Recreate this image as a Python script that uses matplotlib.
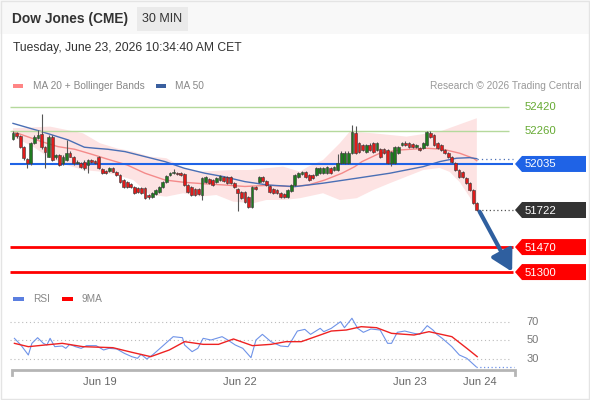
import numpy as np
import matplotlib.pyplot as plt
from matplotlib.patches import Rectangle, Polygon

plt.rcParams['font.family'] = ['Liberation Sans', 'DejaVu Sans']

# ---- candles (30 min) ----
opens = [52203, 52248, 52225, 52153, 52067, 52040, 52176, 52210, 52239, 52149,
         52085, 52221, 52081, 52096, 52040, 52062, 52112, 52081, 52040, 52040,
         52051, 52028, 52062, 52057, 52085, 51999, 51989, 51989, 52006, 51983,
         51960, 51926, 51915, 51898, 51881, 51870, 51870, 51870, 51824, 51809,
         51831, 51847, 51881, 51915, 51958, 51972, 51976, 51972, 51967, 51892,
         51881, 51863, 51863, 51824, 51915, 51931, 51926, 51915, 51926, 51949,
         51949, 51949, 51904, 51863, 51847, 51847, 51809, 51741, 51877, 51915,
         51949, 51921, 51885, 51863, 51858, 51840, 51831, 51813, 51853, 51892,
         51949, 51967, 51983, 51960, 51960, 51960, 51976, 51972, 51972, 52006,
         51994, 51994, 52040, 52040, 52040, 52108, 52244, 52176, 52164, 52119,
         52164, 52176, 52130, 52135, 52135, 52130, 52040, 52040, 52108, 52164,
         52176, 52176, 52171, 52149, 52142, 52142, 52164, 52248, 52232, 52176,
         52164, 52130, 52108, 52085, 52040, 51994, 51983, 51938, 51904, 51858,
         51768]
closes = [52248, 52225, 52153, 52074, 52040, 52176, 52221, 52232, 52149, 52119,
          52221, 52062, 52096, 52028, 52085, 52112, 52085, 52040, 52051, 52017,
          52006, 52062, 52051, 52040, 52006, 51972, 51976, 52006, 51983, 51960,
          51915, 51881, 51881, 51877, 51840, 51847, 51836, 51802, 51809, 51836,
          51858, 51881, 51915, 51953, 51976, 51983, 51967, 51960, 51892, 51847,
          51824, 51824, 51830, 51938, 51949, 51904, 51892, 51938, 51953, 51921,
          51908, 51904, 51877, 51836, 51802, 51779, 51745, 51881, 51863, 51949,
          51921, 51892, 51847, 51840, 51836, 51813, 51809, 51858, 51892, 51960,
          51972, 51983, 51949, 51926, 51938, 52006, 52006, 52006, 52013, 51972,
          52017, 52044, 52112, 52112, 52112, 52255, 52108, 52119, 52130, 52164,
          52130, 52119, 52176, 52085, 52108, 52040, 52119, 52153, 52153, 52176,
          52164, 52153, 52153, 52162, 52130, 52176, 52255, 52221, 52164, 52142,
          52130, 52108, 52085, 52051, 51994, 51949, 51949, 51904, 51858, 51768,
          51722]
highs = [52260, 52255, 52230, 52160, 52075, 52185, 52230, 52265, 52375, 52155,
         52230, 52230, 52105, 52105, 52095, 52198, 52120, 52090, 52060, 52050,
         52060, 52070, 52070, 52065, 52090, 52005, 51995, 52012, 52012, 51990,
         51965, 51930, 51920, 51905, 51888, 51876, 51876, 51876, 51830, 51842,
         51865, 51888, 51922, 51960, 51983, 51999, 51983, 51978, 51972, 51898,
         51888, 51870, 51870, 51945, 51955, 51938, 51933, 51945, 51960, 51955,
         51955, 51955, 51910, 51870, 51853, 51853, 51815, 51888, 51884, 51955,
         51956, 51928, 51892, 51870, 51865, 51847, 51838, 51865, 51898, 51966,
         51978, 51990, 51990, 51967, 51967, 52012, 52012, 52012, 52020, 52012,
         52023, 52100, 52120, 52120, 52125, 52300, 52290, 52185, 52172, 52172,
         52180, 52185, 52185, 52142, 52142, 52137, 52126, 52160, 52160, 52183,
         52190, 52183, 52178, 52168, 52148, 52183, 52262, 52262, 52240, 52183,
         52171, 52137, 52115, 52092, 52047, 52001, 51990, 51945, 51911, 51865,
         51775]
lows = [52195, 52215, 52145, 52060, 52005, 52030, 52170, 52205, 52140, 52006,
        52080, 52055, 52070, 52020, 52030, 52055, 52080, 52030, 52035, 52010,
        51995, 51972, 52045, 52035, 52000, 51965, 51970, 51983, 51978, 51955,
        51908, 51875, 51875, 51870, 51832, 51840, 51830, 51795, 51800, 51802,
        51825, 51840, 51875, 51908, 51950, 51965, 51960, 51953, 51885, 51840,
        51818, 51818, 51822, 51790, 51908, 51898, 51885, 51908, 51920, 51915,
        51900, 51898, 51870, 51712, 51795, 51772, 51738, 51735, 51856, 51908,
        51915, 51885, 51840, 51833, 51830, 51806, 51802, 51806, 51846, 51885,
        51942, 51960, 51942, 51920, 51932, 51953, 51970, 51965, 51965, 51965,
        51988, 51988, 52033, 52033, 52033, 52100, 52100, 52112, 52124, 52112,
        52124, 52112, 52124, 52078, 52100, 52033, 52020, 52033, 52100, 52157,
        52157, 52146, 52146, 52142, 52124, 52136, 52157, 52214, 52157, 52135,
        52124, 52101, 52078, 52044, 51987, 51942, 51942, 51897, 51851, 51761,
        51715]

# ---- indicators (candle index, value) ----
ma50_x = [0, 8, 15.5, 20, 23, 26.6, 31.4, 37, 42.6, 48, 53.8, 59, 65, 71.4, 79,
          86.8, 96.3, 105.6, 115, 119.6, 124.3, 128, 130]
ma50_y = [52311, 52255, 52198, 52149, 52142, 52135, 52119, 52085, 52051, 52006,
          51972, 51949, 51915, 51892, 51881, 51904, 51938, 51972, 52017, 52051,
          52074, 52078, 52071]
ma20_x = [0, 8, 12.6, 17.3, 21.8, 26.6, 32, 37, 42.6, 48, 53.8, 59.4, 65, 71.6,
          78.2, 82.8, 87.4, 92.2, 95.8, 97.8, 102.8, 108.4, 115.9, 120.5, 125.2,
          129, 130]
ma20_y = [52255, 52187, 52153, 52135, 52103, 52067, 52028, 51972, 51926, 51910,
          51900, 51892, 51882, 51890, 51881, 51892, 51926, 51972, 52017, 52051,
          52108, 52130, 52142, 52135, 52108, 52074, 52057]
bb_up_x = [0, 10.4, 19.6, 24.4, 29, 33.7, 38.4, 43, 47.7, 52.4, 61.6, 66.4, 71,
           75.7, 80.4, 82.8, 86.9, 91.6, 94.4, 100.8, 110.3, 119.6, 126.1, 130]
bb_up_y = [52278, 52289, 52244, 52176, 52142, 52119, 52085, 52074, 52006, 51983,
           51994, 51994, 52006, 52017, 51983, 52017, 52062, 52176, 52255, 52244,
           52221, 52255, 52312, 52346]
bb_lo_x = [0, 5.6, 10.4, 15, 19.7, 24.4, 29, 33.7, 38.4, 43, 47.7, 52.4, 57,
           61.7, 67.3, 71, 75.7, 80.4, 86.9, 91.6, 96.3, 101, 105.6, 110.3, 115,
           119.6, 122.4, 125.2, 128, 130]
bb_lo_y = [52221, 52153, 52074, 52028, 51994, 51983, 51960, 51926, 51824, 51813,
           51836, 51813, 51824, 51779, 51768, 51790, 51790, 51802, 51836, 51790,
           51802, 51858, 51904, 51949, 51994, 52008, 51981, 51912, 51810, 51708]

rsi_x = [0.4, 2.2, 4.3, 5.3, 6.9, 8.5, 9.5, 10.4, 11.7, 13.8, 14.8, 15.9, 17.5,
         19.1, 20.6, 23.3, 25.4, 26.9, 29.1, 31.2, 33.3, 34.9, 35.9, 37.5, 39.1,
         40.7, 42.8, 44.9, 47.5, 48.1, 50.2, 51.8, 53.3, 55.5, 58.6, 60.2, 62.3,
         64.4, 66.7, 68.1, 69.9, 72.3, 75, 77.1, 79.7, 81.8, 83.4, 86.1, 87.1,
         89.2, 91.8, 92.9, 95, 96.6, 98.2, 100.3, 102.9, 105, 106.1, 107.7, 109.8,
         112.4, 114, 116.1, 117.7, 118.8, 120.3, 123, 125.1, 127.2, 129.8]
rsi_v = [51.8, 44.6, 33.8, 46.4, 52.5, 46.4, 44.6, 51.8, 42.8, 43.5, 41, 45.3,
         42.8, 41, 43.9, 43.9, 39.2, 41, 40.3, 35.6, 32, 30.2, 34.5, 29.5, 33.8,
         39.2, 46.4, 53.6, 52.5, 44.6, 37.4, 41, 51.8, 50, 53.6, 50, 44.6, 41,
         30.9, 50, 56.1, 48.2, 43.5, 42.8, 59.7, 61.5, 56.1, 62.6, 59, 62.6, 69.8,
         63.3, 73.5, 62.6, 58.3, 61.9, 60.8, 46.4, 46.4, 58.3, 59.7, 57.2, 56.1,
         65.5, 60.8, 56.1, 51.8, 42.8, 33.8, 30.2, 21.1]
rsi_ma_x = [0.4, 4.3, 9, 13.8, 19.6, 28, 33.3, 38.6, 43.8, 48.1, 53.3, 57.6,
            61.8, 67.1, 72.3, 76.5, 80.8, 86.1, 89.2, 93.4, 97.6, 101.9, 106.1,
            112.4, 116.6, 123, 127.2, 130.1]
rsi_ma_v = [46.4, 42.8, 44.6, 46.4, 42.8, 41.7, 36.7, 32, 39.2, 48.2, 45.3, 45.3,
            51.1, 43.9, 45.3, 48.2, 48.2, 55.4, 59.7, 60.8, 64.4, 63.3, 57.2, 55.4,
            59, 53.6, 41, 32]

levels_green = [52420, 52260]
level_blue = 52035
levels_red = [51470, 51300]
last_price = 51722
target = 51300
date_pos = [24.4, 63.7, 111.2, 130.9]
date_lab = ['Jun 19', 'Jun 22', 'Jun 23', 'Jun 24']

W, H = 590, 400
fig = plt.figure(figsize=(W / 100, H / 100), dpi=100)


def frac(x0, y0, x1, y1):
    return [x0 / W, 1 - y1 / H, (x1 - x0) / W, (y1 - y0) / H]


X0, X1 = -0.84, 140.7
n = len(closes)
idx = np.arange(n)
o = np.array(opens)
c = np.array(closes)

# ---- main price panel ----
ax = fig.add_axes(frac(10, 95, 515, 285))
ax.set_xlim(X0, X1)
ax.set_ylim(51212, 52504)
ax.axis('off')

ax.fill(np.r_[bb_up_x, bb_lo_x[::-1]], np.r_[bb_up_y, bb_lo_y[::-1]],
        color='#fde3e3', lw=0, zorder=1)
ax.plot(ma20_x, ma20_y, color='#f48a8a', lw=1, zorder=2)
ax.plot(ma50_x, ma50_y, color='#4a6fb5', lw=1, zorder=2)

for lv in levels_green:
    ax.hlines(lv, X0, 139.0, color='#b5d99c', lw=1, zorder=2)
ax.hlines(level_blue, X0, 140.2, color='#1f63e6', lw=1.5, zorder=2)
for lv in levels_red:
    ax.hlines(lv, X0, 140.2, color='#ff0000', lw=2, zorder=2)

cols = np.where(c >= o, '#1f7a1f', '#e01b1b')
ax.vlines(idx, lows, highs, color='#555555', lw=0.8, zorder=3)
ax.bar(idx, np.maximum(np.abs(c - o), 4), bottom=np.minimum(o, c), width=0.78,
       color=cols, edgecolor='#3a3a3a', linewidth=0.4, zorder=4)

# dotted guides to the price tags
ax.plot([n - 0.6, 140.2], [last_price, last_price], color='#555555', lw=0.9,
        ls=(0, (1, 2)), clip_on=False, zorder=2)
ax.plot([ma50_x[-1], 140.2], [ma50_y[-1], ma50_y[-1]], color='#4a6fb5', lw=0.9,
        ls=(0, (1, 2.5)), clip_on=False, zorder=2)

ax.annotate('', xy=(139.9, target + 2), xytext=(130.8, last_price - 12),
            arrowprops=dict(arrowstyle='-|>,head_length=0.9,head_width=0.5',
                            color='#2f5f9f', lw=3, shrinkA=0, shrinkB=0,
                            mutation_scale=14),
            annotation_clip=False, zorder=6)

# ---- RSI panel ----
ax2 = fig.add_axes(frac(10, 305, 515, 370))
ax2.set_xlim(X0, X1)
ax2.set_ylim(17.57, 87.84)
ax2.axis('off')
ax2.hlines([30, 50, 70], X0, 139.3, colors='#bbbbbb', lw=0.8,
           linestyles=(0, (1, 2.5)))
for v in [30, 50, 70]:
    ax2.text(144.0, v, str(v), ha='left', va='center', fontsize=8,
             color='#777777', clip_on=False)
ax2.plot(rsi_x, rsi_v, color='#6f93e8', lw=0.8)
ax2.plot([rsi_x[-1], 140.3], [rsi_v[-1], rsi_v[-1]], color='#6f93e8', lw=0.9,
         ls=(0, (1, 2)), clip_on=False)
ax2.plot(rsi_ma_x, rsi_ma_v, color='#ee2222', lw=1)
ax2.plot([-0.28, -0.28, 140.7, 140.7], [12.2, 17.57, 17.57, 12.2],
         color='#b5b5b5', lw=2, clip_on=False, solid_joinstyle='miter')
for p, lab in zip(date_pos, date_lab):
    ax2.text(p, 4.6, lab, ha='center', va='center', fontsize=8,
             color='#666666', clip_on=False)

# ---- overlay: header, legends, tags ----
ov = fig.add_axes([0, 0, 1, 1], zorder=10)
ov.set_xlim(0, W)
ov.set_ylim(H, 0)
ov.axis('off')
ov.patch.set_visible(False)

ov.add_patch(Rectangle((0, 0), W, 34, facecolor='#f8f8f8', edgecolor='none',
                       zorder=0))
ov.add_patch(Rectangle((0.5, 0.5), W - 1.5, H - 1.5, facecolor='none',
                       edgecolor='#e4e4e4', lw=1))
ov.text(12, 19, 'Dow Jones (CME)', fontsize=9.9, fontweight='bold',
        color='#333333', va='center')
ov.add_patch(Rectangle((137, 7), 51, 24, facecolor='#eaeaea', edgecolor='none'))
ov.text(162.5, 19.5, '30 MIN', fontsize=9, color='#333333', ha='center',
        va='center')
ov.text(13, 48, 'Tuesday, June 23, 2026 10:34:40 AM CET', fontsize=8.7,
        color='#333333', va='center')

ov.add_patch(Rectangle((13, 84), 10, 4, facecolor='#ff8585', edgecolor='none'))
ov.text(33, 86, 'MA 20 + Bollinger Bands', fontsize=7.3, color='#888888',
        va='center')
ov.add_patch(Rectangle((156, 84), 10, 4, facecolor='#3a5f9f', edgecolor='none'))
ov.text(175, 86, 'MA 50', fontsize=7.3, color='#888888', va='center')
ov.text(581, 86, 'Research \u00a9 2026 Trading Central', fontsize=7.3,
        color='#999999', va='center', ha='right')

ov.add_patch(Rectangle((13, 297), 11, 4, facecolor='#5b7fe0', edgecolor='none'))
ov.text(33, 299, 'RSI', fontsize=7.3, color='#888888', va='center')
ov.add_patch(Rectangle((62, 297), 11, 4, facecolor='#ff0000', edgecolor='none'))
ov.text(82, 299, '9MA', fontsize=7.3, color='#888888', va='center')


def pix_y(price):
    return H - ax.transData.transform((0, price))[1]


def tag(price, face):
    y = pix_y(price)
    ov.add_patch(Polygon([(515, y), (522, y - 8), (586, y - 8), (586, y + 8),
                          (522, y + 8)], closed=True, facecolor=face,
                         edgecolor='none'))
    ov.text(525, y + 0.5, str(price), fontsize=8.2, color='white', va='center')


for lv in levels_green:
    ov.text(525, pix_y(lv), str(lv), fontsize=8.2, color='#66aa33', va='center')
tag(level_blue, '#1f63e6')
tag(last_price, '#333333')
for lv in levels_red:
    tag(lv, '#ff0000')

fig.savefig('out.png', dpi=100)
